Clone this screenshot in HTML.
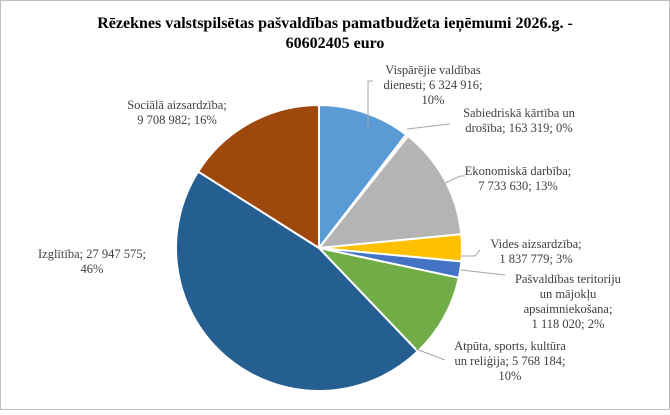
<!DOCTYPE html>
<html><head><meta charset="utf-8"><style>
body{margin:0;background:#fff}
svg text{font-family:"Liberation Serif",serif;fill:#404040;font-size:12.5px}
</style></head><body>
<svg id="s" width="670" height="410" xmlns="http://www.w3.org/2000/svg">
<rect x="0.5" y="0.5" width="669" height="409" fill="#fff" stroke="#bfbfbf"/>
<text x="335" y="28" text-anchor="middle" style="font-weight:bold;font-size:16px;fill:#000">Rēzeknes valstspilsētas pašvaldības pamatbudžeta ieņēmumi 2026.g. -</text>
<text x="335" y="48" text-anchor="middle" style="font-weight:bold;font-size:16px;fill:#000">60602405 euro</text>
<g id="pie"></g>
<g fill="none" stroke="#a6a6a6" stroke-width="1">
<polyline points="368,126 368,81 373,81"/>
<polyline points="407,129 450,124"/>
<polyline points="445,183 460,176 465,176"/>
<polyline points="461,256 475,256 480,250"/>
<polyline points="461,270 505,275"/>
<polyline points="416,349 445,360"/>
</g>
<text text-anchor="middle"><tspan x="433" y="74">Vispārējie valdības</tspan><tspan x="433" y="89">dienesti; 6 324 916;</tspan><tspan x="433" y="104">10%</tspan></text>
<text text-anchor="middle"><tspan x="519" y="117">Sabiedriskā kārtība un</tspan><tspan x="519" y="132">drošība; 163 319; 0%</tspan></text>
<text text-anchor="middle"><tspan x="518" y="175">Ekonomiskā darbība;</tspan><tspan x="518" y="190">7 733 630; 13%</tspan></text>
<text text-anchor="middle"><tspan x="536" y="248">Vides aizsardzība;</tspan><tspan x="536" y="263">1 837 779; 3%</tspan></text>
<text text-anchor="middle"><tspan x="568" y="283">Pašvaldības teritoriju</tspan><tspan x="568" y="298">un mājokļu</tspan><tspan x="568" y="313">apsaimniekošana;</tspan><tspan x="568" y="328">1 118 020; 2%</tspan></text>
<text text-anchor="middle"><tspan x="510" y="350">Atpūta, sports, kultūra</tspan><tspan x="510" y="365">un reliģija; 5 768 184;</tspan><tspan x="510" y="380">10%</tspan></text>
<text text-anchor="middle"><tspan x="92" y="258">Izglītība; 27 947 575;</tspan><tspan x="92" y="273">46%</tspan></text>
<text text-anchor="middle"><tspan x="177" y="109">Sociālā aizsardzība;</tspan><tspan x="177" y="124">9 708 982; 16%</tspan></text>
</svg>
<script>
var v=[6324916,163319,7733630,1837779,1118020,5768184,27947575,9708982];
var c=["#5B9BD5","#ED7D31","#B4B4B4","#FFC000","#4472C4","#70AD47","#255E91","#9E480E"];
var t=60602405,cx=319,cy=248,r=143,a=0,g=document.getElementById('pie'),h='';
for(var i=0;i<v.length;i++){var b=a+v[i]/t*2*Math.PI;
var x1=cx+r*Math.sin(a),y1=cy-r*Math.cos(a),x2=cx+r*Math.sin(b),y2=cy-r*Math.cos(b);
h+='<path d="M'+cx+','+cy+' L'+x1+','+y1+' A'+r+','+r+' 0 '+((b-a)>Math.PI?1:0)+' 1 '+x2+','+y2+' Z" fill="'+c[i]+'" stroke="#fff" stroke-width="2"/>';a=b;}
g.innerHTML=h;
</script>
</body></html>
